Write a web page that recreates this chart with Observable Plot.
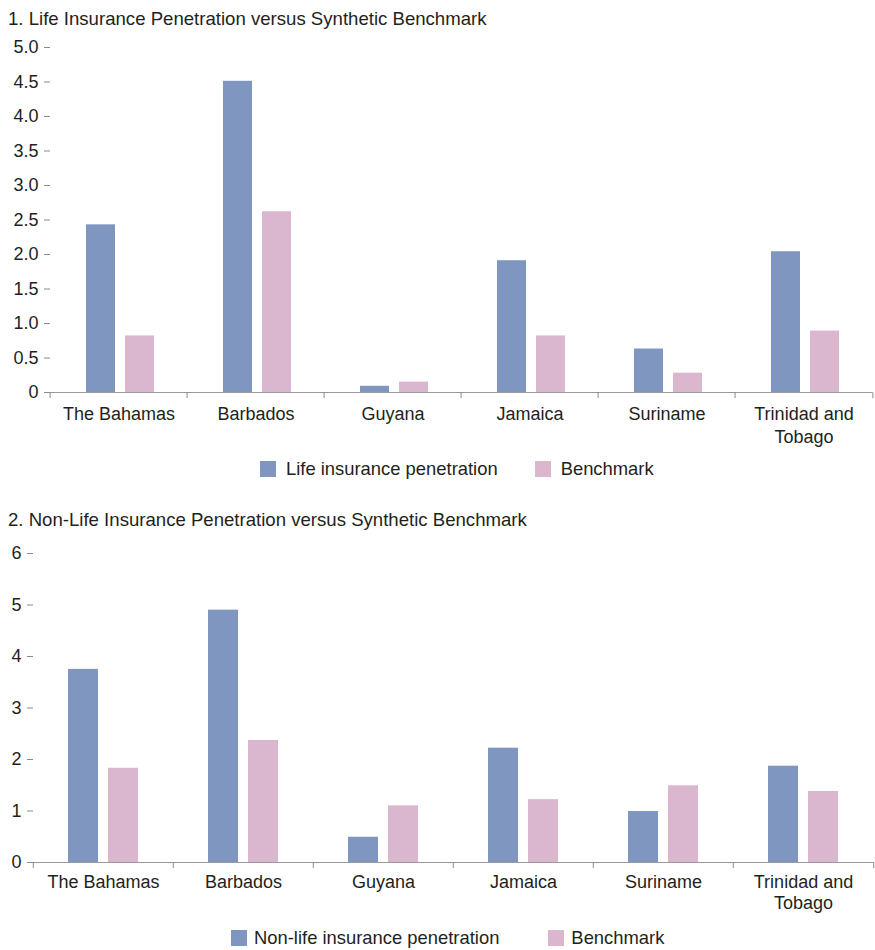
<!DOCTYPE html>
<html><head><meta charset="utf-8">
<script src="https://cdn.jsdelivr.net/npm/d3@7"></script>
<script src="https://cdn.jsdelivr.net/npm/@observablehq/plot@0.6"></script>
<style>
body{margin:0;background:#fff;font-family:"Liberation Sans",Arial,sans-serif;color:#231f20;width:875px;}
.title{font-size:18.6px;line-height:30px;padding-left:8px;white-space:nowrap;}
.legend{height:32px;display:flex;align-items:center;font-size:18.4px;}
.sw{width:16px;height:16px;display:inline-block;flex:none;}
svg{display:block}
</style></head><body>
<div id="root"></div>
<script>
const countries = ["The Bahamas","Barbados","Guyana","Jamaica","Suriname","Trinidad and Tobago"];
const countryLabels = ["The Bahamas","Barbados","Guyana","Jamaica","Suriname","Trinidad and\nTobago"];
const lifePenetration = [2.43,4.51,0.09,1.91,0.63,2.04];
const lifeBenchmark = [0.82,2.62,0.15,0.82,0.28,0.89];
const nonLifePenetration = [3.75,4.90,0.49,2.22,0.99,1.87];
const nonLifeBenchmark = [1.83,2.37,1.10,1.22,1.49,1.38];
const yTicks1 = [0,0.5,1,1.5,2,2.5,3,3.5,4,4.5,5];
const yTicks2 = [0,1,2,3,4,5,6];
const series1 = ["Life insurance penetration","Benchmark"];
const series2 = ["Non-life insurance penetration","Benchmark"];
const colors = ["#7f96c1","#dbb7cf"];
const title1 = "1. Life Insurance Penetration versus Synthetic Benchmark";
const title2 = "2. Non-Life Insurance Penetration versus Synthetic Benchmark";

const FONT = '"Liberation Sans", Arial, sans-serif';
const W = 875;

function build(cfg) {
  const rows = [];
  countries.forEach((c, i) => {
    rows.push({country: c, series: "a", value: cfg.a[i]});
    rows.push({country: c, series: "b", value: cfg.b[i]});
  });
  const bw = (W - cfg.ml - cfg.mr) / countries.length;
  const labelOf = new Map(countries.map((c, i) => [c, countryLabels[i]]));
  const chart = Plot.plot({
    width: W,
    height: cfg.height,
    marginLeft: cfg.ml,
    marginRight: cfg.mr,
    marginTop: cfg.mt,
    marginBottom: cfg.mb,
    style: {fontFamily: FONT, fontSize: "18px", color: "#231f20", background: "#fff", overflow: "visible"},
    fx: {domain: countries, padding: 0},
    x: {domain: ["a","b"], paddingInner: 0.25, paddingOuter: 0.85, align: cfg.align, axis: null},
    y: {domain: cfg.ydomain},
    color: {domain: ["a","b"], range: colors},
    marks: [
      Plot.barY(rows, {fx: "country", x: "series", y: "value", fill: "series"}),
      Plot.ruleY([0], {stroke: "#9a9a9a", strokeWidth: 1.2}),
      Plot.axisY({ticks: cfg.yticks, tickFormat: cfg.fmt, tickSize: 6, tickPadding: 6, stroke: "#8a8a8a", fontSize: 18, label: null}),
      Plot.axisFx({anchor: "bottom", tickSize: 0, tickPadding: cfg.tp, fontSize: 18, lineHeight: cfg.lh, tickFormat: d => labelOf.get(d), label: null}),
      Plot.axisFx({anchor: "bottom", text: null, tickSize: 6, dx: -bw / 2, stroke: "#8a8a8a", label: null}),
      Plot.axisFx({anchor: "bottom", text: null, ticks: [countries[countries.length - 1]], tickSize: 6, dx: bw / 2, stroke: "#8a8a8a", label: null})
    ]
  });
  return chart;
}

function legend(names, left, gapText, gapItem) {
  const d = document.createElement("div");
  d.className = "legend";
  d.style.paddingLeft = left + "px";
  names.forEach((n, i) => {
    const s = document.createElement("span");
    s.className = "sw";
    s.style.background = colors[i];
    if (i > 0) s.style.marginLeft = gapItem + "px";
    const t = document.createElement("span");
    t.textContent = n;
    t.style.marginLeft = gapText + "px";
    d.appendChild(s); d.appendChild(t);
  });
  return d;
}

function titleDiv(text, pt) {
  const d = document.createElement("div");
  d.className = "title";
  d.style.paddingTop = pt + "px";
  d.textContent = text;
  return d;
}

const root = document.getElementById("root");
root.appendChild(titleDiv(title1, 4));
root.appendChild(build({
  a: lifePenetration, b: lifeBenchmark, height: 419, ml: 47, mr: 1, mt: 13, mb: 61,
  ydomain: [0, 5], yticks: yTicks1, fmt: d => d === 0 ? "0" : d.toFixed(1), align: 0.53, tp: 12, lh: 1.25
}));
root.appendChild(legend(series1, 260, 10, 37));
root.appendChild(titleDiv(title2, 20));
root.appendChild(build({
  a: nonLifePenetration, b: nonLifeBenchmark, height: 387, ml: 31, mr: 1, mt: 18, mb: 60,
  ydomain: [0, 6], yticks: yTicks2, fmt: d => String(d), align: 0.5, tp: 10, lh: 1.2
}));
root.appendChild(legend(series2, 231, 7, 49));
</script>
</body></html>
